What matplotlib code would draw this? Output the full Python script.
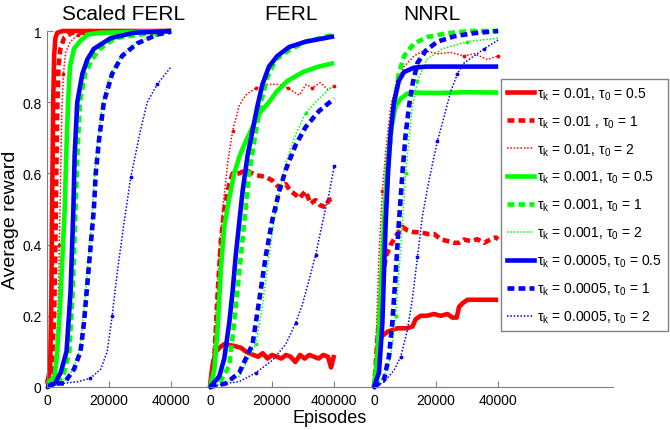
import matplotlib
matplotlib.use("Agg")
import matplotlib.pyplot as plt
from matplotlib.lines import Line2D

plt.rcParams['font.family'] = ['Liberation Sans', 'DejaVu Sans']
plt.rcParams['mathtext.fontset'] = 'custom'
plt.rcParams['mathtext.rm'] = 'Liberation Sans'
plt.rcParams['mathtext.it'] = 'Liberation Sans'

# ---------------- data ----------------
panel_titles = ["Scaled FERL", "FERL", "NNRL"]
xtick_vals = [0, 20000, 40000]
xtick_labels = [["0", "20000", "40000"], ["0", "20000", "400000"], ["0", "20000", "40000"]]
ytick_vals = [0, 0.2, 0.4, 0.6, 0.8, 1.0]
ytick_labels = ["0", "0.2", "0.4", "0.6", "0.8", "1"]
legend_labels = [
    "τ$_\\mathrm{k}$ = 0.01, τ$_\\mathrm{0}$ = 0.5",
    "τ$_\\mathrm{k}$ = 0.01 , τ$_\\mathrm{0}$ = 1",
    "τ$_\\mathrm{k}$ = 0.01, τ$_\\mathrm{0}$ = 2",
    "τ$_\\mathrm{k}$ = 0.001, τ$_\\mathrm{0}$ = 0.5",
    "τ$_\\mathrm{k}$ = 0.001, τ$_\\mathrm{0}$ = 1",
    "τ$_\\mathrm{k}$ = 0.001, τ$_\\mathrm{0}$ = 2",
    "τ$_\\mathrm{k}$ = 0.0005, τ$_\\mathrm{0}$ = 0.5",
    "τ$_\\mathrm{k}$ = 0.0005, τ$_\\mathrm{0}$ = 1",
    "τ$_\\mathrm{k}$ = 0.0005, τ$_\\mathrm{0}$ = 2",
]

# Scaled FERL
sf_r1_x = [0, 1000, 1400, 1700, 2000, 2300, 2700, 3300, 5000, 40000]
sf_r1_y = [0.01, 0.05, 0.25, 0.55, 0.8, 0.93, 0.98, 0.995, 1.0, 1.0]
sf_r2_x = [0, 1500, 2300, 2700, 3000, 3300, 3700, 4300, 5500, 8000, 40000]
sf_r2_y = [0.01, 0.05, 0.2, 0.4, 0.6, 0.78, 0.9, 0.95, 0.98, 0.995, 1.0]
sf_r3_x = [0, 2500, 3500, 4000, 4400, 4800, 5300, 6000, 7500, 10000, 40000]
sf_r3_y = [0.01, 0.05, 0.2, 0.4, 0.6, 0.78, 0.88, 0.94, 0.97, 0.99, 1.0]
sf_g1_x = [0, 2500, 3300, 4200, 5000, 5700, 6300, 6800, 7400, 8700, 10500, 13000, 17000, 40000]
sf_g1_y = [0.01, 0.03, 0.1, 0.22, 0.37, 0.5, 0.68, 0.8, 0.9, 0.95, 0.97, 0.99, 0.995, 1.0]
sf_g2_x = [0, 3500, 5500, 7200, 8300, 9200, 9800, 10600, 12300, 14500, 17000, 22000, 30000, 40000]
sf_g2_y = [0.0, 0.01, 0.04, 0.1, 0.27, 0.5, 0.65, 0.8, 0.88, 0.92, 0.95, 0.98, 0.99, 1.0]
sf_g3_x = [0, 2000, 5200, 8400, 10500, 11600, 12500, 13500, 14800, 15400, 16400, 18000, 20700, 23900, 28700, 35200, 40000]
sf_g3_y = [0.0, 0.01, 0.01, 0.05, 0.1, 0.18, 0.27, 0.37, 0.5, 0.6, 0.69, 0.8, 0.88, 0.93, 0.965, 0.99, 0.998]
sf_b1_x = [0, 2500, 4400, 6300, 7600, 8500, 8900, 9750, 11400, 13000, 15100, 20500, 28000, 40000]
sf_b1_y = [0.0, 0.01, 0.04, 0.1, 0.27, 0.5, 0.65, 0.8, 0.88, 0.92, 0.95, 0.98, 0.995, 1.0]
sf_b2_x = [0, 2000, 5500, 8700, 10800, 11900, 12800, 13800, 15100, 15700, 16700, 18300, 21000, 24200, 29000, 35500, 40000]
sf_b2_y = [0.0, 0.01, 0.01, 0.05, 0.1, 0.18, 0.27, 0.37, 0.5, 0.6, 0.69, 0.8, 0.88, 0.93, 0.965, 0.99, 0.998]
sf_b3_x = [0, 5000, 10000, 14000, 17300, 19400, 21000, 22600, 24800, 27000, 30100, 32300, 35500, 40000]
sf_b3_y = [0.0, 0.01, 0.015, 0.025, 0.05, 0.1, 0.2, 0.32, 0.46, 0.59, 0.72, 0.8, 0.85, 0.9]

# FERL
fe_r1_x = [0, 500, 1000, 2000, 3000, 4500, 6000, 8000, 10000, 11500, 12500, 14000, 15500, 17000, 18500,
           20000, 21500, 23000, 24500, 26000, 27500, 29000, 30500, 32000, 33500, 35000, 36500, 38000, 39000, 40000]
fe_r1_y = [0.0, 0.04, 0.07, 0.1, 0.11, 0.12, 0.118, 0.115, 0.11, 0.1, 0.095, 0.09, 0.085, 0.095, 0.08,
           0.09, 0.085, 0.08, 0.09, 0.085, 0.07, 0.09, 0.08, 0.09, 0.085, 0.08, 0.09, 0.085, 0.055, 0.09]
fe_r2_x = [0, 1400, 2500, 3500, 4600, 6200, 7300, 9400, 11500, 14800, 18000, 20100, 22300, 24400, 26000,
           27600, 28700, 30800, 32400, 34000, 35600, 37200, 38300, 40000]
fe_r2_y = [0.0, 0.08, 0.27, 0.41, 0.5, 0.57, 0.6, 0.6, 0.61, 0.595, 0.59, 0.58, 0.56, 0.57, 0.55,
           0.54, 0.53, 0.55, 0.515, 0.525, 0.51, 0.505, 0.525, 0.53]
fe_r3_x = [0, 860, 1900, 3000, 4100, 5700, 7300, 9400, 11500, 14800, 18000, 22300, 25000, 28700, 31000,
           33000, 35500, 38000, 40000]
fe_r3_y = [0.0, 0.08, 0.2, 0.37, 0.5, 0.63, 0.72, 0.79, 0.82, 0.84, 0.85, 0.85, 0.84, 0.82, 0.85,
           0.84, 0.855, 0.835, 0.845]
fe_g1_x = [0, 1400, 2500, 3500, 4600, 6200, 7800, 9600, 11500, 13700, 16000, 19000, 21500, 25000, 30000, 35000, 40000]
fe_g1_y = [0.0, 0.05, 0.17, 0.33, 0.45, 0.53, 0.6, 0.65, 0.69, 0.73, 0.77, 0.8, 0.83, 0.86, 0.885, 0.9, 0.91]
fe_g2_x = [0, 3000, 6200, 7800, 9400, 11000, 12600, 14800, 16400, 18500, 21200, 25500, 30800, 40000]
fe_g2_y = [0.0, 0.01, 0.06, 0.18, 0.32, 0.46, 0.6, 0.72, 0.8, 0.87, 0.92, 0.946, 0.97, 0.99]
fe_g3_x = [0, 3000, 9400, 14800, 16900, 19000, 21200, 24400, 27600, 30800, 35100, 40000]
fe_g3_y = [0.0, 0.005, 0.03, 0.12, 0.23, 0.37, 0.5, 0.63, 0.71, 0.77, 0.81, 0.85]
fe_b1_x = [0, 3000, 4600, 6200, 7300, 8300, 9400, 10500, 12100, 13700, 15300, 16900, 19000, 21700, 25500, 30800, 40000]
fe_b1_y = [0.0, 0.03, 0.08, 0.18, 0.27, 0.37, 0.46, 0.55, 0.65, 0.72, 0.79, 0.85, 0.9, 0.93, 0.955, 0.97, 0.985]
fe_b2_x = [0, 5100, 9400, 13700, 15800, 18000, 20100, 22300, 24400, 27600, 30800, 35100, 40000]
fe_b2_y = [0.0, 0.01, 0.04, 0.12, 0.24, 0.37, 0.47, 0.55, 0.61, 0.68, 0.73, 0.775, 0.81]
fe_b3_x = [0, 5100, 9400, 14800, 20100, 24400, 27600, 29700, 31900, 34000, 36200, 38300, 40000]
fe_b3_y = [0.0, 0.01, 0.015, 0.04, 0.075, 0.12, 0.18, 0.23, 0.3, 0.37, 0.46, 0.54, 0.62]

# NNRL
nn_r1_x = [0, 1100, 2150, 4300, 7500, 10750, 12400, 13400, 15000, 17000, 19350, 21500, 23650, 25250,
           26650, 27400, 28500, 30100, 34000, 40000]
nn_r1_y = [0.0, 0.08, 0.14, 0.155, 0.165, 0.165, 0.17, 0.19, 0.2, 0.2, 0.205, 0.2, 0.205, 0.195,
           0.195, 0.225, 0.235, 0.245, 0.245, 0.245]
nn_r2_x = [0, 1100, 2150, 3760, 5400, 7500, 9150, 10750, 12900, 15000, 17200, 19350, 21500, 23650,
           25800, 27400, 29000, 31200, 33300, 35500, 37600, 39200, 40000]
nn_r2_y = [0.0, 0.13, 0.25, 0.365, 0.4, 0.43, 0.45, 0.44, 0.435, 0.435, 0.43, 0.43, 0.415, 0.41,
           0.405, 0.405, 0.414, 0.41, 0.415, 0.405, 0.415, 0.42, 0.415]
nn_r3_x = [0, 860, 1600, 2700, 3760, 5400, 7500, 9700, 12900, 16100, 20400, 24700, 29000, 32300, 36500, 40000]
nn_r3_y = [0.0, 0.18, 0.37, 0.55, 0.66, 0.79, 0.86, 0.9, 0.93, 0.945, 0.936, 0.94, 0.93, 0.936, 0.92, 0.93]
nn_g1_x = [0, 1100, 2150, 3200, 4300, 5400, 7000, 8600, 10750, 12900, 20000, 30000, 40000]
nn_g1_y = [0.0, 0.08, 0.27, 0.46, 0.62, 0.72, 0.79, 0.81, 0.824, 0.827, 0.826, 0.828, 0.827]
nn_g2_x = [0, 1600, 2700, 3760, 4800, 6450, 8000, 9700, 12900, 17200, 23650, 31200, 40000]
nn_g2_y = [0.0, 0.13, 0.32, 0.5, 0.65, 0.79, 0.88, 0.93, 0.965, 0.983, 0.994, 1.0, 1.0]
nn_g3_x = [0, 3200, 5400, 7000, 8000, 9150, 10200, 11300, 12400, 14000, 17000, 22000, 30000, 40000]
nn_g3_y = [0.0, 0.03, 0.085, 0.2, 0.32, 0.46, 0.6, 0.7, 0.79, 0.86, 0.92, 0.95, 0.97, 0.98]
nn_b1_x = [0, 1600, 2700, 3200, 3760, 4500, 5400, 6450, 8000, 9700, 12900, 17000, 40000]
nn_b1_y = [0.0, 0.04, 0.18, 0.32, 0.46, 0.6, 0.72, 0.8, 0.86, 0.885, 0.897, 0.9, 0.9]
nn_b2_x = [0, 3200, 4800, 5900, 7000, 8000, 9150, 10200, 11300, 12400, 14000, 16700, 20400, 25800, 32300, 40000]
nn_b2_y = [0.0, 0.02, 0.085, 0.18, 0.32, 0.46, 0.6, 0.71, 0.79, 0.85, 0.91, 0.945, 0.97, 0.985, 0.994, 1.0]
nn_b3_x = [0, 3200, 6450, 8600, 10750, 12400, 14000, 15600, 17700, 20400, 22600, 24700, 26900, 29000, 32300, 35500, 40000]
nn_b3_y = [0.0, 0.014, 0.047, 0.085, 0.16, 0.25, 0.365, 0.48, 0.58, 0.69, 0.76, 0.83, 0.88, 0.91, 0.93, 0.95, 0.975]

panels = [
    [(sf_r1_x, sf_r1_y), (sf_r2_x, sf_r2_y), (sf_r3_x, sf_r3_y),
     (sf_g1_x, sf_g1_y), (sf_g2_x, sf_g2_y), (sf_g3_x, sf_g3_y),
     (sf_b1_x, sf_b1_y), (sf_b2_x, sf_b2_y), (sf_b3_x, sf_b3_y)],
    [(fe_r1_x, fe_r1_y), (fe_r2_x, fe_r2_y), (fe_r3_x, fe_r3_y),
     (fe_g1_x, fe_g1_y), (fe_g2_x, fe_g2_y), (fe_g3_x, fe_g3_y),
     (fe_b1_x, fe_b1_y), (fe_b2_x, fe_b2_y), (fe_b3_x, fe_b3_y)],
    [(nn_r1_x, nn_r1_y), (nn_r2_x, nn_r2_y), (nn_r3_x, nn_r3_y),
     (nn_g1_x, nn_g1_y), (nn_g2_x, nn_g2_y), (nn_g3_x, nn_g3_y),
     (nn_b1_x, nn_b1_y), (nn_b2_x, nn_b2_y), (nn_b3_x, nn_b3_y)],
]

# ---------------- styles ----------------
colors = ["#ff0000", "#ff0000", "#ff0000", "#00ff00", "#00ff00", "#00ff00", "#0000ff", "#0000ff", "#0000ff"]
kinds = ["solid", "dash", "dot"] * 3

def style(kind):
    if kind == "solid":
        return dict(lw=3.3, linestyle="-")
    if kind == "dash":
        return dict(lw=3.3, linestyle=(0, (1.5, 0.9)))
    return dict(lw=1.1, linestyle=(0, (1, 1.2)))

fig = plt.figure(figsize=(6.7, 4.31), dpi=100)
W, H = 670.0, 431.0
lefts = [47, 210, 374]
axw = 239
bottom_px = 388
top_px = 32
spine_gray = "#808080"

for i, left in enumerate(lefts):
    ax = fig.add_axes([left / W, (H - bottom_px) / H, axw / W, (bottom_px - top_px) / H])
    ax.patch.set_alpha(0)
    for j, (xs, ys) in enumerate(panels[i]):
        st = style(kinds[j])
        extra = {}
        if kinds[j] == "dot":
            extra = dict(marker=".", ms=3.5, markevery=3)
        ax.plot(xs, ys, color=colors[j], clip_on=False, solid_capstyle="butt",
                dash_capstyle="butt", **st, **extra)
    ax.set_xlim(0, 77000)
    ax.set_ylim(0, 1)
    ax.set_xticks(xtick_vals)
    ax.set_xticklabels(xtick_labels[i])
    ax.spines["top"].set_visible(False)
    ax.spines["right"].set_visible(False)
    ax.spines["bottom"].set_color(spine_gray)
    ax.tick_params(axis="x", direction="in", length=4, color=spine_gray,
                   labelsize=10, pad=4)
    if i == 0:
        ax.set_yticks(ytick_vals)
        ax.set_yticklabels(ytick_labels)
        ax.spines["left"].set_color(spine_gray)
        ax.tick_params(axis="y", direction="in", length=4, color=spine_gray,
                       labelsize=10, pad=4)
    else:
        ax.spines["left"].set_visible(False)
        ax.set_yticks([])

title_centers = [124, 291, 432]
for t, cx in zip(panel_titles, title_centers):
    fig.text(cx / W, 1 - 14 / H, t, ha="center", va="center", fontsize=15)

fig.text(11 / W, 1 - 220 / H, "Average reward", rotation=90, ha="center", va="center", fontsize=14)
fig.text(330 / W, 1 - 419 / H, "Episodes", ha="center", va="center", fontsize=13)

handles = [Line2D([], [], color=colors[j], **style(kinds[j])) for j in range(9)]
leg = fig.legend(handles, legend_labels, loc="upper left",
                 bbox_to_anchor=(501 / W, 1 - 80 / H), borderaxespad=0,
                 fontsize=10, handlelength=1.95, handletextpad=0.2,
                 borderpad=0.45, labelspacing=0.83, fancybox=False,
                 edgecolor=spine_gray, framealpha=1)
leg.get_frame().set_linewidth(1.0)

fig.savefig("out.png", dpi=100)
